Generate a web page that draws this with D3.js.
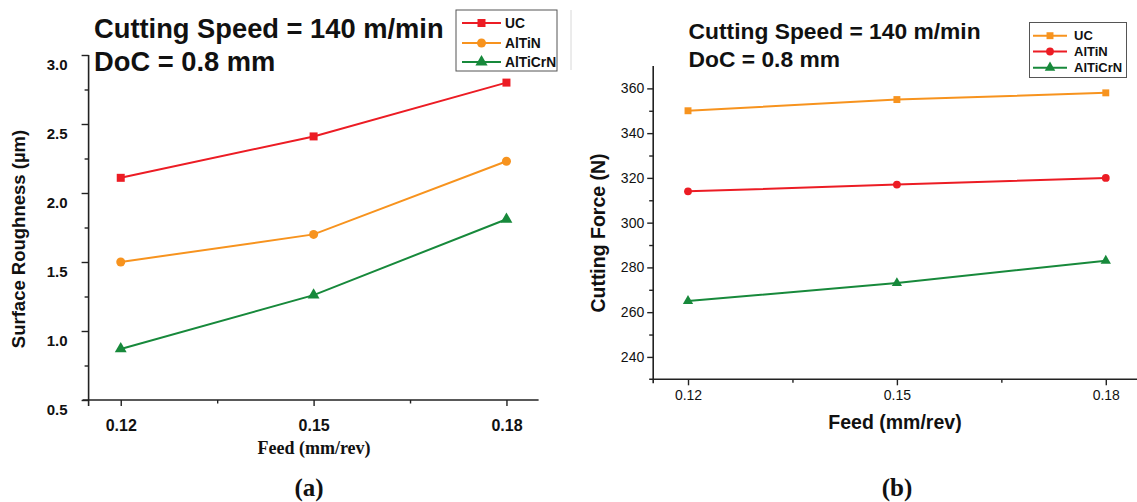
<!DOCTYPE html>
<html>
<head>
<meta charset="utf-8">
<script src="https://cdn.jsdelivr.net/npm/d3@7"></script>
<style>
  html, body { margin: 0; padding: 0; background: #fff; }
  svg { display: block; }
  text { font-family: "Liberation Sans", Arial, sans-serif; fill: #111; }
  .serif { font-family: "Liberation Serif", "Times New Roman", serif; }
</style>
</head>
<body>
<svg id="fig" width="1137" height="502"></svg>
<script>
// Feed values on the x axis (mm/rev)
const feeds = [0.12, 0.15, 0.18];
const feedTickLabels = ["0.12", "0.15", "0.18"];
const feedMinorTicks = [0.135, 0.165];
const coatings = ["UC", "AlTiN", "AlTiCrN"];

// (a) Surface roughness (µm)
const roughnessUC = [2.11, 2.41, 2.80];
const roughnessAlTiN = [1.50, 1.70, 2.23];
const roughnessAlTiCrN = [0.87, 1.26, 1.81];
const roughnessTicks = [0.5, 1.0, 1.5, 2.0, 2.5, 3.0];
const roughnessMinorTicks = [0.75, 1.25, 1.75, 2.25, 2.75];

// (b) Cutting force (N)
const forceUC = [350, 355, 358];
const forceAlTiN = [314, 317, 320];
const forceAlTiCrN = [265, 273, 283];
const forceTicks = [240, 260, 280, 300, 320, 340, 360];
const forceMinorTicks = [250, 270, 290, 310, 330, 350];

const RED = "#ec1c24", ORANGE = "#f7931e", GREEN = "#17893b";
const svg = d3.select("#fig");

const symbolOf = {
  UC: d3.symbolSquare,
  AlTiN: d3.symbolCircle,
  AlTiCrN: d3.symbolTriangle
};

function drawPanel(cfg) {
  const g = svg.append("g");
  const x = d3.scaleLinear().domain([0.115, 0.185]).range(cfg.xRange);
  const y = d3.scaleLinear().domain(cfg.yDomain).range(cfg.yRange);
  const [x0, x1] = cfg.xRange;
  const [yb, yt] = cfg.yRange;

  // axis lines (slightly overshooting each other at the corner)
  g.append("line").attr("x1", x0 - cfg.over).attr("x2", cfg.xEnd)
    .attr("y1", yb).attr("y2", yb)
    .attr("stroke", "#222").attr("stroke-width", 1.6);
  g.append("line").attr("x1", x0).attr("x2", x0)
    .attr("y1", yt).attr("y2", yb + cfg.over)
    .attr("stroke", "#222").attr("stroke-width", 1.6);

  // x axis: major and minor ticks
  const xAxis = d3.axisBottom(x).tickValues(feeds)
    .tickFormat((d, i) => feedTickLabels[i])
    .tickSize(6).tickPadding(cfg.xPad).tickSizeOuter(0);
  const xg = g.append("g").attr("transform", `translate(0,${yb})`).call(xAxis);
  xg.select(".domain").remove();
  xg.selectAll(".tick line").attr("stroke", "#222").attr("stroke-width", 1.4);
  xg.selectAll(".tick text")
    .attr("font-family", "Liberation Sans, Arial, sans-serif")
    .attr("font-size", cfg.tickFont).attr("font-weight", cfg.tickWeight)
    .attr("fill", "#111");
  const xm = g.append("g").attr("transform", `translate(0,${yb})`)
    .call(d3.axisBottom(x).tickValues(feedMinorTicks).tickFormat("").tickSize(3.5).tickSizeOuter(0));
  xm.select(".domain").remove();
  xm.selectAll(".tick line").attr("stroke", "#222").attr("stroke-width", 1.4);

  // y axis: major and minor ticks
  const yAxis = d3.axisLeft(y).tickValues(cfg.yTicks)
    .tickFormat(cfg.yFormat).tickSize(cfg.yTickLen).tickPadding(cfg.yPad).tickSizeOuter(0);
  const yg = g.append("g").attr("transform", `translate(${x0},0)`).call(yAxis);
  yg.select(".domain").remove();
  yg.selectAll(".tick line").attr("stroke", "#222").attr("stroke-width", 1.4);
  yg.selectAll(".tick text")
    .attr("font-family", "Liberation Sans, Arial, sans-serif")
    .attr("font-size", cfg.yTickFont).attr("font-weight", cfg.tickWeight)
    .attr("fill", "#111").attr("dy", cfg.yLabelDy);
  const ym = g.append("g").attr("transform", `translate(${x0},0)`)
    .call(d3.axisLeft(y).tickValues(cfg.yMinor).tickFormat("").tickSize(4).tickSizeOuter(0));
  ym.select(".domain").remove();
  ym.selectAll(".tick line").attr("stroke", "#222").attr("stroke-width", 1.4);

  // series lines and markers
  const line = d3.line().x((d, i) => x(feeds[i])).y(d => y(d));
  cfg.series.forEach(s => {
    g.append("path").datum(s.values)
      .attr("d", line).attr("fill", "none")
      .attr("stroke", s.color).attr("stroke-width", 2);
    g.selectAll(null).data(s.values).enter().append("path")
      .attr("transform", (d, i) => `translate(${x(feeds[i])},${y(d)})`)
      .attr("d", d3.symbol().type(symbolOf[s.name]).size(s.name === "AlTiCrN" ? cfg.markerSize * 0.95 : cfg.markerSize))
      .attr("fill", s.color);
  });

  // headline text
  const t = g.append("text").attr("x", cfg.titleX).attr("font-weight", "bold")
    .attr("font-size", cfg.titleFont).attr("fill", "#000");
  t.append("tspan").attr("x", cfg.titleX).attr("y", cfg.titleY1).text("Cutting Speed = 140 m/min");
  t.append("tspan").attr("x", cfg.titleX).attr("y", cfg.titleY2).text("DoC = 0.8 mm");

  // legend
  const L = cfg.legend;
  g.append("rect").attr("x", L.x).attr("y", L.y).attr("width", L.w).attr("height", L.h)
    .attr("fill", "#fff").attr("stroke", "#555").attr("stroke-width", 1);
  cfg.series.forEach((s, i) => {
    const ry = L.rows[i];
    g.append("line").attr("x1", L.lx0).attr("x2", L.lx1).attr("y1", ry).attr("y2", ry)
      .attr("stroke", s.color).attr("stroke-width", 2);
    g.append("path").attr("transform", `translate(${(L.lx0 + L.lx1) / 2},${ry})`)
      .attr("d", d3.symbol().type(symbolOf[s.name]).size(cfg.markerSize))
      .attr("fill", s.color);
    g.append("text").attr("x", L.tx).attr("y", ry).attr("dy", "0.36em")
      .attr("font-size", L.font).attr("font-weight", "bold").attr("fill", "#000")
      .text(s.name);
  });

  // axis titles
  g.append("text").attr("class", cfg.xTitleClass)
    .attr("x", cfg.xTitlePos[0]).attr("y", cfg.xTitlePos[1]).attr("dy", "0.35em")
    .attr("text-anchor", "middle").attr("font-weight", "bold")
    .attr("font-size", cfg.xTitleFont).attr("fill", "#000")
    .text("Feed (mm/rev)");
  g.append("text")
    .attr("transform", `translate(${cfg.yTitlePos[0]},${cfg.yTitlePos[1]}) rotate(-90)`)
    .attr("dy", "0.35em").attr("text-anchor", "middle").attr("font-weight", "bold")
    .attr("font-size", cfg.yTitleFont).attr("fill", "#000")
    .text(cfg.yTitle);

  // panel caption
  g.append("text").attr("class", "serif")
    .attr("x", cfg.captionPos[0]).attr("y", cfg.captionPos[1]).attr("dy", "0.35em")
    .attr("text-anchor", "middle").attr("font-weight", "bold").attr("font-size", 25)
    .attr("fill", "#000").text(cfg.caption);
}

// (a) Surface roughness panel
drawPanel({
  xRange: [88.6, 538.6], xEnd: 538.6, over: 6,
  yDomain: [0.5, 3.0], yRange: [400, 55],
  yTicks: roughnessTicks, yMinor: roughnessMinorTicks,
  yFormat: d3.format(".1f"), yTickLen: 7, yPad: 14, yLabelDy: "0.95em",
  tickFont: 16, yTickFont: 15, tickWeight: "bold", xPad: 14,
  markerSize: 64,
  series: [
    { name: coatings[0], values: roughnessUC, color: RED },
    { name: coatings[1], values: roughnessAlTiN, color: ORANGE },
    { name: coatings[2], values: roughnessAlTiCrN, color: GREEN }
  ],
  titleX: 94, titleY1: 38, titleY2: 71, titleFont: 27.3,
  legend: { x: 456, y: 10, w: 101, h: 61, rows: [23, 43, 62],
            lx0: 462, lx1: 501, tx: 505, font: 13.8 },
  xTitleClass: "serif", xTitlePos: [314, 448], xTitleFont: 18,
  yTitlePos: [19, 239], yTitleFont: 18.5, yTitle: "Surface Roughness (µm)",
  caption: "(a)", captionPos: [309, 487]
});

// (b) Cutting force panel
drawPanel({
  xRange: [653.2, 1140.6], xEnd: 1137, over: 4,
  yDomain: [230, 370], yRange: [379.3, 66],
  yTicks: forceTicks, yMinor: forceMinorTicks,
  yFormat: d3.format("d"), yTickLen: 6, yPad: 3, yLabelDy: "0.32em",
  tickFont: 14, yTickFont: 14, tickWeight: "normal", xPad: 5,
  markerSize: 48,
  series: [
    { name: coatings[0], values: forceUC, color: ORANGE },
    { name: coatings[1], values: forceAlTiN, color: RED },
    { name: coatings[2], values: forceAlTiCrN, color: GREEN }
  ],
  titleX: 688.6, titleY1: 39, titleY2: 67, titleFont: 22.8,
  legend: { x: 1029.5, y: 22.5, w: 97, h: 55, rows: [35.7, 51.5, 67.7],
            lx0: 1033, lx1: 1067, tx: 1074, font: 13 },
  xTitleClass: "", xTitlePos: [895, 422], xTitleFont: 19.5,
  yTitlePos: [598, 233], yTitleFont: 19.5, yTitle: "Cutting Force (N)",
  caption: "(b)", captionPos: [897, 487]
});

// thin grey edge line at the top of panel (b)
svg.append("line").attr("x1", 571).attr("x2", 571).attr("y1", 10).attr("y2", 70)
  .attr("stroke", "#d8d8d8").attr("stroke-width", 1);
</script>
</body>
</html>
